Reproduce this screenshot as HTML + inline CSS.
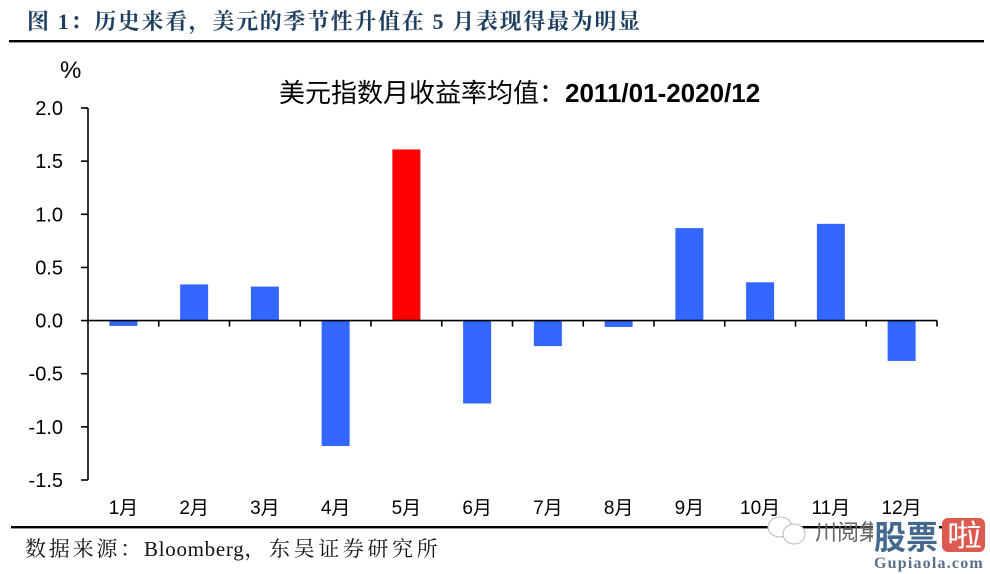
<!DOCTYPE html>
<html lang="zh">
<head>
<meta charset="utf-8">
<title>美元指数月收益率均值</title>
<style>
html,body{margin:0;padding:0;background:#fff;}
body{width:990px;height:574px;overflow:hidden;}
svg{display:block;}
.sans{font-family:"Liberation Sans","Noto Sans CJK SC",sans-serif;}
.serif{font-family:"Liberation Serif","Noto Serif CJK SC",serif;}
</style>
</head>
<body>
<svg id="chart" width="990" height="574" viewBox="0 0 990 574" xmlns="http://www.w3.org/2000/svg">
  <text class="serif" x="27" y="29" font-size="22" font-weight="700" fill="#1f3f60" textLength="613" lengthAdjust="spacing">图 1：历史来看，美元的季节性升值在 5 月表现得最为明显</text>
  <rect x="9" y="40" width="975" height="2.4" fill="#000"></rect>
  <text class="sans" x="60" y="78" font-size="24" fill="#000">%</text>
  <text class="sans" x="279" y="102" font-size="26" fill="#000">美元指数月收益率均值：<tspan font-weight="700">2011/01-2020/12</tspan></text>
  <g id="bars"></g>
  <g id="axes"></g>
  <rect x="11" y="526" width="973" height="2.4" fill="#000"></rect>
  <text class="serif" x="25" y="556" font-size="21" fill="#111"><tspan letter-spacing="2.8">数据来源：</tspan><tspan letter-spacing="0.7">Bloomberg</tspan><tspan letter-spacing="3.6">，东吴证券研究所</tspan></text>
  <g>
    <ellipse cx="780" cy="527" rx="12" ry="10" fill="#fff" stroke="#bbb" stroke-width="1"></ellipse>
    <ellipse cx="794" cy="534" rx="11" ry="10" fill="#fff" stroke="#bbb" stroke-width="1"></ellipse>
    <text class="sans" x="815" y="540" font-size="22" fill="#666">川阅集</text>
    <rect x="873" y="516" width="66" height="38" fill="#fff"></rect>
    <text class="sans" x="874" y="549" font-size="33" font-weight="700" fill="#45688f" textLength="64" lengthAdjust="spacingAndGlyphs">股票</text>
    <rect x="942" y="518" width="43" height="34" rx="6" fill="#dd5a50"></rect>
    <text class="sans" x="947" y="546" font-size="30" fill="#fff" textLength="35" lengthAdjust="spacingAndGlyphs">啦</text>
    <text class="serif" x="874" y="568" font-size="16" font-weight="700" fill="#5a7088" letter-spacing="1.2">Gupiaola.com</text>
  </g>
</svg>
<script>
const categories = ['1月','2月','3月','4月','5月','6月','7月','8月','9月','10月','11月','12月'];
const seriesValues = [-0.05, 0.34, 0.32, -1.18, 1.61, -0.78, -0.24, -0.06, 0.87, 0.36, 0.91, -0.38];
const highlightCategory = '5月';
const yTicks = [2.0, 1.5, 1.0, 0.5, 0.0, -0.5, -1.0, -1.5];

const NS = 'http://www.w3.org/2000/svg';
const plot = { left: 88, right: 937, top: 108, bottom: 480 };
const yMax = 2.0;
const yMin = -1.5;
const barWidth = 28;

function yScale(v) {
  return plot.top + (yMax - v) / (yMax - yMin) * (plot.bottom - plot.top);
}
function bandWidth() {
  return (plot.right - plot.left) / categories.length;
}
function xScale(i) {
  return plot.left + bandWidth() * i;
}
function make(tag, attrs, parent) {
  const el = document.createElementNS(NS, tag);
  for (const k in attrs) el.setAttribute(k, attrs[k]);
  parent.appendChild(el);
  return el;
}

const barsGroup = document.getElementById('bars');
const axesGroup = document.getElementById('axes');

seriesValues.forEach(function (v, i) {
  const cx = xScale(i) + bandWidth() / 2;
  const y0 = yScale(0);
  const yv = yScale(v);
  const bar = make('rect', {
    x: cx - barWidth / 2,
    y: Math.min(y0, yv),
    width: barWidth,
    height: Math.abs(yv - y0),
    fill: categories[i] === highlightCategory ? '#ff0000' : '#3366ff'
  }, barsGroup);
  
  
});

const yAxisLine = make('line', { x1: plot.left, x2: plot.left, y1: plot.top, y2: plot.bottom, stroke: '#000', 'stroke-width': 1.6 }, axesGroup);



const xAxisLine = make('line', { x1: plot.left, x2: plot.right, y1: yScale(0), y2: yScale(0), stroke: '#000', 'stroke-width': 1.6 }, axesGroup);



yTicks.forEach(function (t) {
  const y = yScale(t);
  const tick = make('line', { x1: plot.left - 7, x2: plot.left, y1: y, y2: y, stroke: '#000', 'stroke-width': 1.6 }, axesGroup);
  
  
  const label = make('text', { x: 63, y: y + 7, 'text-anchor': 'end', 'font-size': 20, fill: '#000', class: 'sans' }, axesGroup);
  label.textContent = t.toFixed(1);
  
  
});

categories.forEach(function (c, i) {
  const tx = xScale(i + 1);
  const tick = make('line', { x1: tx, x2: tx, y1: yScale(0), y2: yScale(0) + 6, stroke: '#000', 'stroke-width': 1.6 }, axesGroup);
  
  
  const label = make('text', { x: xScale(i) + bandWidth() / 2, y: 514, 'text-anchor': 'middle', 'font-size': 19, fill: '#000', class: 'sans' }, axesGroup);
  label.textContent = c;
  
  
});
</script>
</body>
</html>
